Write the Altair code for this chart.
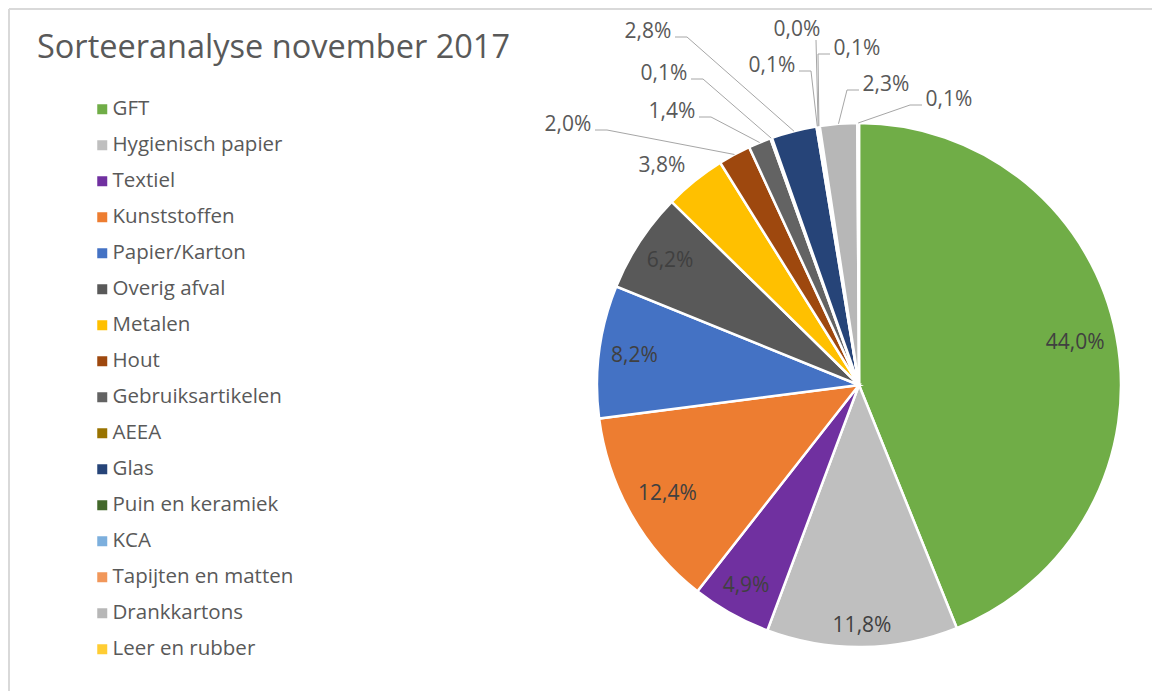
import math
import altair as alt
import pandas as pd

# ---------------- data ----------------
categories = ["GFT", "Hygienisch papier", "Textiel", "Kunststoffen", "Papier/Karton",
              "Overig afval", "Metalen", "Hout", "Gebruiksartikelen", "AEEA", "Glas",
              "Puin en keramiek", "KCA", "Tapijten en matten", "Drankkartons", "Leer en rubber"]
values = [44.0, 11.8, 4.9, 12.4, 8.2, 6.2, 3.8, 2.0, 1.4, 0.1, 2.8, 0.1, 0.0, 0.1, 2.3, 0.1]
colors = ["#70AD47", "#BFBFBF", "#7030A0", "#ED7D31", "#4472C4", "#595959", "#FFC000",
          "#9E480E", "#636363", "#997300", "#264478", "#43682B", "#7CAFDD", "#F1975A",
          "#B7B7B7", "#FFCD33"]
title_text = "Sorteeranalyse november 2017"

# ---------------- layout ----------------
W, H = 1144, 621
PAD_TOP = 62
CX, CY = 851, 315        # pie centre in plot coordinates
R = 262                  # pie radius
FONT = "Open Sans"
LABEL_SIZE = 21

# placement of the outside labels (offset of text centre from the pie centre, side of leader line)
outside_layout = {
    "Metalen":            (-197, -219, None),
    "Hout":               (-291, -260, 1),
    "Gebruiksartikelen":  (-187, -273, 1),
    "AEEA":               (-195, -311, 1),
    "Glas":               (-211, -353, 1),
    "Puin en keramiek":   (-87, -319, 1),
    "KCA":                (-62, -355, 0),
    "Tapijten en matten": (-2, -336, -1),
    "Drankkartons":       (27, -300, -1),
    "Leer en rubber":     (90, -285, -1),
}


def fmt(v):
    return f"{v:.1f}".replace(".", ",") + "%"


total = sum(values)
df = pd.DataFrame({
    "category": categories,
    "value": values,
    "idx": list(range(len(categories))),
})

# label positions: inside-end "best fit" for big slices, outside with leaders for small ones
cum = 0.0
in_rows, lab_rows, line_rows = [], [], []
for cat, v in zip(categories, values):
    frac = (cum + v / 2.0) / total
    cum += v
    a = 2 * math.pi * frac
    lab = fmt(v)
    if cat not in outside_layout:
        hw = 0.29 * LABEL_SIZE * len(lab)   # half text width
        hh = 0.5 * LABEL_SIZE               # half text height
        r = R - 10 - (abs(math.sin(a)) * hw + abs(math.cos(a)) * hh)
        in_rows.append({"category": cat, "label": lab,
                        "x": CX + r * math.sin(a), "y": CY - r * math.cos(a)})
        continue
    dx, dy, side = outside_layout[cat]
    tx, ty = CX + dx, CY + dy
    lab_rows.append({"category": cat, "label": lab, "x": tx, "y": ty})
    if side is None:
        continue
    ex, ey = CX + R * math.sin(a), CY - R * math.cos(a)
    if side == 0:
        ax, ay = tx + 19, ty + 10
        bx, by = ax, ay
    else:
        ax, ay = tx + side * 27, ty + 5
        bx, by = ax + side * 12, ay
    for k, (px, py) in enumerate([(ax, ay), (bx, by), (ex, ey)]):
        line_rows.append({"category": cat, "pt": k, "x": px, "y": py})

in_df = pd.DataFrame(in_rows)
lab_df = pd.DataFrame(lab_rows)
line_df = pd.DataFrame(line_rows)

# ---------------- chart ----------------
pie = alt.Chart(df).mark_arc(radius=R, stroke="white", strokeWidth=2.5).encode(
    theta=alt.Theta("value:Q", stack=True),
    order=alt.Order("idx:Q"),
    x=alt.value(CX),
    y=alt.value(CY),
    color=alt.Color(
        "category:N",
        sort=categories,
        scale=alt.Scale(domain=categories, range=colors),
        legend=alt.Legend(
            title=None, orient="none", legendX=84, legendY=29,
            symbolType="square", symbolSize=100, symbolStrokeWidth=0,
            labelFont=FONT, labelFontSize=20.5, labelColor="#595959",
            labelOffset=0, labelLimit=400, rowPadding=15, padding=0,
        ),
    ),
)

inside = alt.Chart(in_df).mark_text(font=FONT, fontSize=LABEL_SIZE, color="#404040",
                                    align="center", baseline="middle").encode(
    x=alt.X("x:Q", scale=None, axis=None),
    y=alt.Y("y:Q", scale=None, axis=None),
    text="label:N",
)

leaders = alt.Chart(line_df).mark_line(color="#A6A6A6", strokeWidth=1).encode(
    x=alt.X("x:Q", scale=None, axis=None),
    y=alt.Y("y:Q", scale=None, axis=None),
    detail="category:N",
    order="pt:Q",
)

outside = alt.Chart(lab_df).mark_text(font=FONT, fontSize=LABEL_SIZE, color="#595959",
                                       align="center", baseline="middle").encode(
    x=alt.X("x:Q", scale=None, axis=None),
    y=alt.Y("y:Q", scale=None, axis=None),
    text="label:N",
)

title = alt.Chart(alt.Data(values=[{"t": title_text}])).mark_text(
    font=FONT, fontSize=32.5, color="#595959", align="left", baseline="alphabetic"
).encode(x=alt.value(29), y=alt.value(-12), text="t:N")

frame_src = alt.Data(values=[{}])
frame_top = alt.Chart(frame_src).mark_rule(color="#D9D9D9", strokeWidth=2).encode(
    x=alt.value(1), x2=alt.value(W), y=alt.value(-PAD_TOP + 1))
frame_left = alt.Chart(frame_src).mark_rule(color="#D9D9D9", strokeWidth=2).encode(
    x=alt.value(1), y=alt.value(-PAD_TOP + 1), y2=alt.value(H))

chart = alt.layer(frame_top, frame_left, pie, leaders, inside, outside, title).properties(
    width=W, height=H,
    autosize=alt.AutoSizeParams(type="none"),
    padding={"top": PAD_TOP, "left": 0, "right": 0, "bottom": 0},
).configure_view(stroke=None)

chart.save("out.html", embed_options={"renderer": "svg", "actions": False})
